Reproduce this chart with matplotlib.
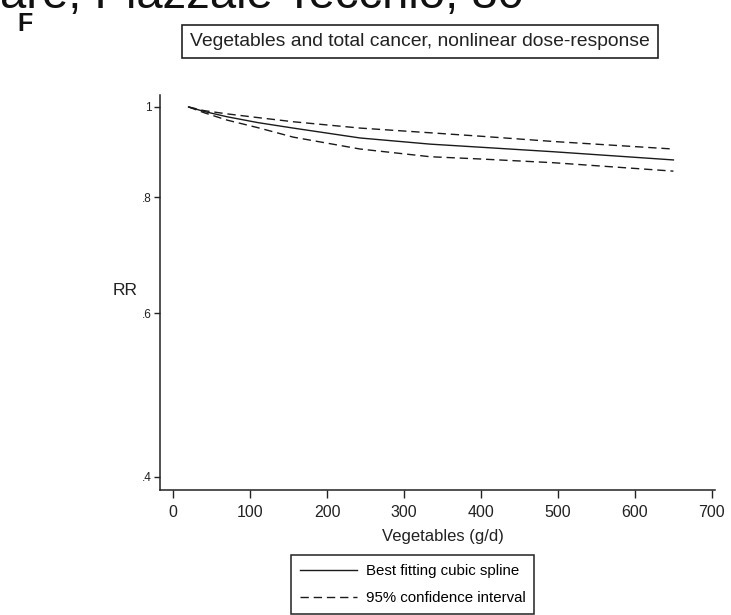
import numpy as np
import matplotlib.pyplot as plt
from matplotlib.ticker import FixedLocator, NullLocator, NullFormatter

# values (RR on a log axis)
veg = [20, 40, 70, 110, 156, 243, 334, 400, 494, 650]
rr_fit = [1.0, 0.989, 0.976, 0.962, 0.949, 0.926, 0.912, 0.905, 0.895, 0.877]
rr_upper = [1.0, 0.991, 0.983, 0.974, 0.964, 0.949, 0.938, 0.930, 0.918, 0.901]
rr_lower = [1.0, 0.986, 0.968, 0.950, 0.928, 0.901, 0.884, 0.879, 0.871, 0.853]

x_ticks = [0, 100, 200, 300, 400, 500, 600, 700]
y_ticks = [0.4, 0.6, 0.8, 1.0]
y_tick_labels = [".4", ".6", ".8", "1"]

plt.rcParams["font.family"] = ["Liberation Sans", "DejaVu Sans"]

W, H = 731, 615
fig = plt.figure(figsize=(W / 100, H / 100), dpi=100)
ax = fig.add_axes([160 / W, 1 - 490 / H, (715 - 160) / W, (490 - 95) / H])

line_kw = dict(color="#1a1a1a", lw=1.0)
ax.plot(veg, rr_fit, ls="-", label="Best fitting cubic spline", **line_kw)
ax.plot(veg, rr_upper, ls=(0, (6, 3.5)), label="95% confidence interval", **line_kw)
ax.plot(veg, rr_lower, ls=(0, (6, 3.5)), **line_kw)

ax.set_yscale("log")
ax.set_ylim(0.3873, 1.030)
ax.set_xlim(-17, 704)
ax.yaxis.set_major_locator(FixedLocator(y_ticks))
ax.set_yticklabels(y_tick_labels)
ax.yaxis.set_minor_locator(NullLocator())
ax.yaxis.set_minor_formatter(NullFormatter())
ax.set_xticks(x_ticks)

for s in ["top", "right"]:
    ax.spines[s].set_visible(False)
for s in ["left", "bottom"]:
    ax.spines[s].set_linewidth(1.1)
    ax.spines[s].set_color("#222222")

ax.tick_params(axis="y", length=4, width=1, pad=2, labelsize=8.5, colors="#222222")
ax.tick_params(axis="x", length=6, width=1, pad=5, labelsize=11.5, colors="#222222")

ax.set_xlabel("Vegetables (g/d)", fontsize=12, color="#222222")
ax.xaxis.set_label_coords(0.51, -0.10)
ax.set_ylabel("RR", rotation=0, ha="center", va="center", fontsize=12.5, color="#222222")
ax.yaxis.set_label_coords(-0.063, 0.506)

# boxed title
fig.text(420 / W, 1 - 41.5 / H, "Vegetables and total cancer, nonlinear dose-response",
         ha="center", va="center", fontsize=13.9, color="#222222",
         bbox=dict(boxstyle="square,pad=0.42", fc="white", ec="#222222", lw=1.2))

# panel letter and the clipped page text above it
fig.text(17 / W, 1 - 31 / H, "F", ha="left", va="baseline", fontsize=18,
         fontweight="bold", color="#111111")
fig.text(0, 1 - 8 / H, "are, Piazzale Tecchio, 80", ha="left", va="baseline",
         fontsize=34, color="#111111")

leg = ax.legend(loc="upper center", bbox_to_anchor=(412.5 / W, 1 - 555 / H),
                bbox_transform=fig.transFigure, fontsize=10.8, frameon=True,
                fancybox=False, framealpha=1, edgecolor="#222222",
                handlelength=3.8, handletextpad=0.6, labelspacing=0.85,
                borderpad=0.6, borderaxespad=0)
leg.get_frame().set_linewidth(1.1)

fig.savefig("out.png", dpi=100)
